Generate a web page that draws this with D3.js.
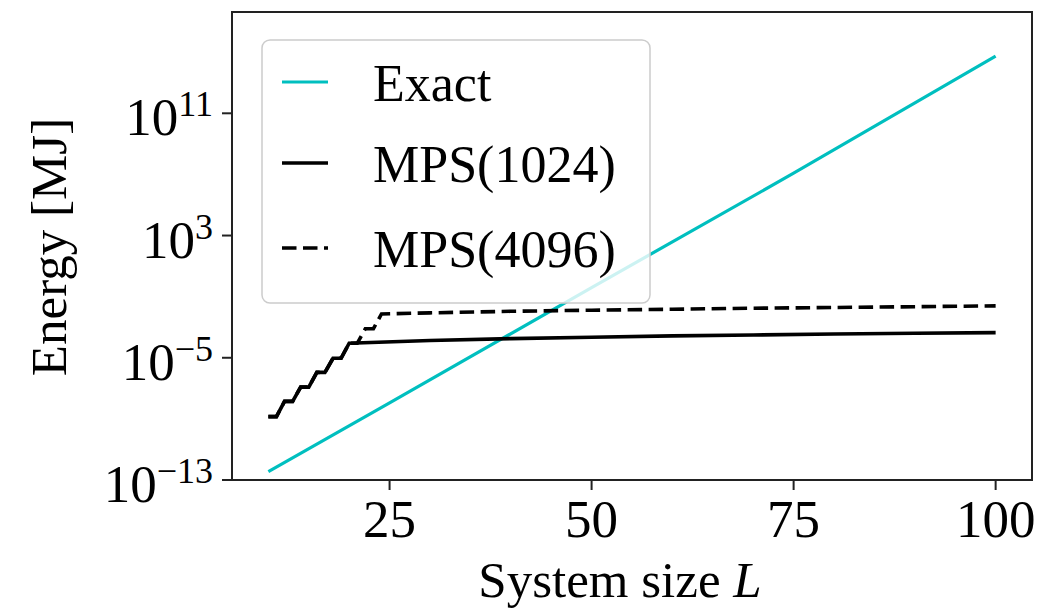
<!DOCTYPE html>
<html>
<head>
<meta charset="utf-8">
<script src="https://cdn.jsdelivr.net/npm/d3@7"></script>
<style>
  body { margin: 0; background: #fff; }
  text { font-family: "Liberation Serif", serif; fill: #000; }
</style>
</head>
<body>
<svg width="1039" height="614"></svg>
<script>
// values
const exactL = [10, 25, 50, 75, 100];
const exactE = [3.5e-13, 1.1e-8, 3.9e-1, 1.2e7, 5.6e14];

const mps1024L = [10, 11, 12, 13, 14, 15, 16, 17, 18, 19, 20, 30, 40, 50, 60, 70, 80, 90, 100];
const mps1024E = [1.4e-9, 1.4e-9, 1.4e-8, 1.4e-8, 1.2e-7, 1.2e-7, 1.1e-6, 1.1e-6, 9.3e-6, 9.3e-6,
  8.9e-5, 1.35e-4, 1.8e-4, 2.2e-4, 2.7e-4, 3.1e-4, 3.6e-4, 4.0e-4, 4.4e-4];

const mps4096L = [10, 11, 12, 13, 14, 15, 16, 17, 18, 19, 20, 21, 22, 23, 24, 30, 40, 50, 60, 70, 80, 90, 100];
const mps4096E = [1.4e-9, 1.4e-9, 1.4e-8, 1.4e-8, 1.2e-7, 1.2e-7, 1.1e-6, 1.1e-6, 9.3e-6, 9.3e-6,
  8.9e-5, 8.9e-5, 8e-4, 8e-4, 7.4e-3, 8.7e-3, 1.1e-2, 1.3e-2, 1.5e-2, 1.75e-2, 1.95e-2, 2.2e-2, 2.5e-2];

const xTicks = [25, 50, 75, 100];
const yTickExp = [-13, -5, 3, 11];

const svg = d3.select("svg");
const plotLeft = 232, plotRight = 1032, plotTop = 12, plotBottom = 480;

const x = d3.scaleLinear().domain([5.5, 104.5]).range([plotLeft, plotRight]);
const y = d3.scaleLog().domain([1e-13, Math.pow(10, 17.63)]).range([plotBottom, plotTop]);

const line = d3.line()
  .x((d) => x(d[0]))
  .y((d) => y(d[1]));

const zip = (a, b) => a.map((v, i) => [v, b[i]]);

// series
svg.append("path")
  .attr("d", line(zip(exactL, exactE)))
  .attr("fill", "none")
  .attr("stroke", "#00bfbf")
  .attr("stroke-width", 3.2);

svg.append("path")
  .attr("d", line(zip(mps4096L, mps4096E)))
  .attr("fill", "none")
  .attr("stroke", "#000")
  .attr("stroke-width", 3.6)
  .attr("stroke-dasharray", "14.5,6.5");

svg.append("path")
  .attr("d", line(zip(mps1024L, mps1024E)))
  .attr("fill", "none")
  .attr("stroke", "#000")
  .attr("stroke-width", 3.6);

// frame
svg.append("rect")
  .attr("x", plotLeft).attr("y", plotTop)
  .attr("width", plotRight - plotLeft).attr("height", plotBottom - plotTop)
  .attr("fill", "none")
  .attr("stroke", "#222")
  .attr("stroke-width", 2);

// x axis
const xAxis = svg.append("g");
xTicks.forEach((t) => {
  xAxis.append("line")
    .attr("x1", x(t)).attr("x2", x(t))
    .attr("y1", plotBottom).attr("y2", plotBottom + 10)
    .attr("stroke", "#222").attr("stroke-width", 2);
  xAxis.append("text")
    .attr("x", x(t)).attr("y", 537)
    .attr("text-anchor", "middle")
    .attr("font-size", 53)
    .text(t);
});

// y axis
const yAxis = svg.append("g");
yTickExp.forEach((e) => {
  const yy = y(Math.pow(10, e));
  yAxis.append("line")
    .attr("x1", plotLeft - 10).attr("x2", plotLeft)
    .attr("y1", yy).attr("y2", yy)
    .attr("stroke", "#222").attr("stroke-width", 2);
  const t = yAxis.append("text")
    .attr("x", 213).attr("y", yy + 22)
    .attr("text-anchor", "end")
    .attr("font-size", 53);
  t.append("tspan").text("10");
  t.append("tspan")
    .attr("font-size", 36)
    .attr("dy", -19)
    .text(e < 0 ? "\u2212" + Math.abs(e) : String(e));
});

// axis labels
const xl = svg.append("text")
  .attr("x", 620).attr("y", 597)
  .attr("text-anchor", "middle")
  .attr("font-size", 51);
xl.append("tspan").text("System size ");
xl.append("tspan").attr("font-style", "italic").text("L");

svg.append("text")
  .attr("transform", "translate(66,247) rotate(-90)")
  .attr("text-anchor", "middle")
  .attr("font-size", 51)
  .text("Energy [MJ]");

// legend
const legend = svg.append("g");
legend.append("rect")
  .attr("x", 262).attr("y", 40)
  .attr("width", 388).attr("height", 263)
  .attr("rx", 8)
  .attr("fill", "#fff").attr("fill-opacity", 0.8)
  .attr("stroke", "#ccc").attr("stroke-width", 1.5);

const legendItems = [
  { label: "Exact", color: "#00bfbf", width: 3.2, dash: null, ly: 82 },
  { label: "MPS(1024)", color: "#000", width: 3.6, dash: null, ly: 163 },
  { label: "MPS(4096)", color: "#000", width: 3.6, dash: "14.5,6.5", ly: 248 }
];
legendItems.forEach((d) => {
  legend.append("line")
    .attr("x1", 282).attr("x2", 328)
    .attr("y1", d.ly).attr("y2", d.ly)
    .attr("stroke", d.color)
    .attr("stroke-width", d.width)
    .attr("stroke-dasharray", d.dash);
  legend.append("text")
    .attr("x", 373).attr("y", d.ly + 19)
    .attr("font-size", 52)
    .text(d.label);
});
</script>
</body>
</html>
